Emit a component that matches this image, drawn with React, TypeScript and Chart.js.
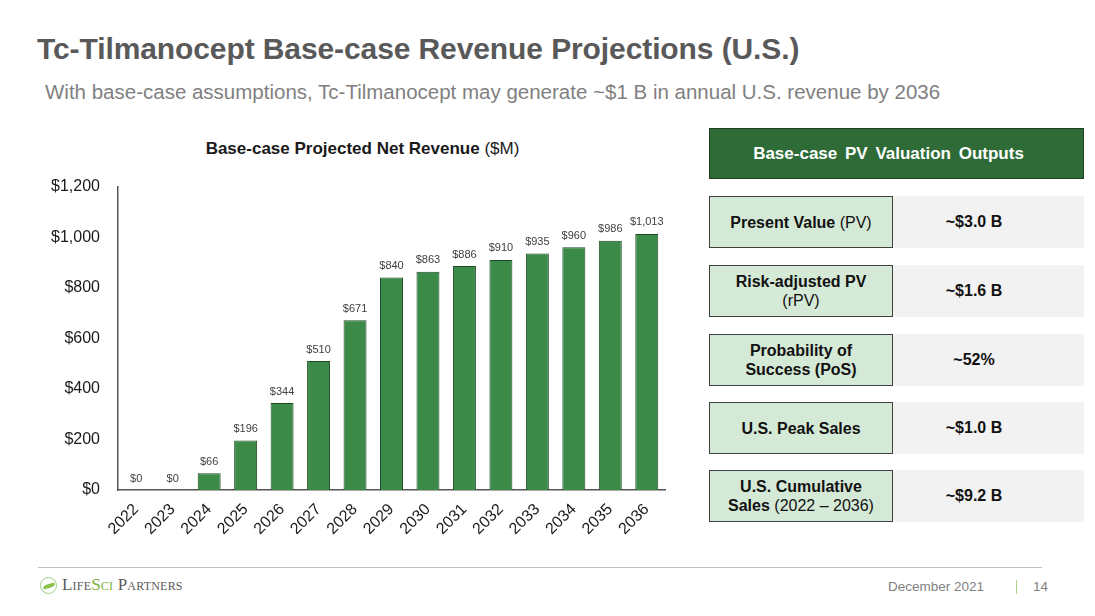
import React, { useEffect, useRef } from "react";
import { Chart, registerables } from "chart.js";

Chart.register(...registerables);

const years = ["2022","2023","2024","2025","2026","2027","2028","2029","2030","2031","2032","2033","2034","2035","2036"];
const revenue = [0, 0, 66, 196, 344, 510, 671, 840, 863, 886, 910, 935, 960, 986, 1013];
const yTicksMax = 1200;
const yStep = 200;

const outputValues = ["~$3.0 B", "~$1.6 B", "~52%", "~$1.0 B", "~$9.2 B"];

const FONT = "'Liberation Sans', Arial, sans-serif";

const dataLabelPlugin = {
  id: "dataLabels",
  afterDatasetsDraw(chart: any) {
    const { ctx } = chart;
    const meta = chart.getDatasetMeta(0);
    ctx.save();
    ctx.font = `11px ${FONT}`;
    ctx.fillStyle = "#404040";
    ctx.textAlign = "center";
    ctx.textBaseline = "bottom";
    meta.data.forEach((bar: any, i: number) => {
      const v = revenue[i];
      ctx.fillText("$" + v.toLocaleString("en-US"), bar.x, bar.y - 6);
    });
    ctx.restore();
  },
};

function RevenueChart() {
  const ref = useRef<HTMLCanvasElement | null>(null);
  useEffect(() => {
    if (!ref.current) return;
    const chart = new Chart(ref.current, {
      type: "bar",
      data: {
        labels: years,
        datasets: [
          {
            data: revenue,
            backgroundColor: "#3b8a47",
            borderColor: "#1d4a24",
            borderWidth: 1,
            categoryPercentage: 1,
            barPercentage: 0.63,
          },
        ],
      },
      options: {
        animation: false,
        responsive: false,
        maintainAspectRatio: false,
        layout: { padding: { top: 18, right: 15, left: 0, bottom: 0 } },
        plugins: { legend: { display: false }, tooltip: { enabled: false }, title: { display: false } },
        scales: {
          x: {
            grid: { display: false },
            border: { display: true, color: "#555", width: 1.5 },
            ticks: {
              color: "#1a1a1a",
              font: { family: FONT, size: 16 },
              minRotation: 45,
              maxRotation: 45,
              padding: 2,
            },
            afterFit(scale: any) { scale.height = 60; },
          },
          y: {
            min: 0,
            max: yTicksMax,
            grid: { display: false },
            border: { display: true, color: "#555", width: 1.5 },
            ticks: {
              stepSize: yStep,
              color: "#1a1a1a",
              font: { family: FONT, size: 16 },
              padding: 10,
              callback: (v: any) => "$" + Number(v).toLocaleString("en-US"),
            },
            afterFit(scale: any) { scale.width = 78; },
          },
        },
      },
      plugins: [dataLabelPlugin],
    });
    return () => chart.destroy();
  }, []);
  return <canvas ref={ref} width={640} height={383} style={{ position: "absolute", left: 40, top: 167, width: 640, height: 383 }} />;
}

export default function App() {
  const rowTops = [196, 265, 334, 402, 470];
  return (
    <div style={{ position: "absolute", left: 0, top: 0, width: 1095, height: 616, background: "#fff", overflow: "hidden", fontFamily: FONT }}>
      <div style={{ position: "absolute", left: 37, top: 32, fontSize: 30, fontWeight: "bold", color: "#595959", whiteSpace: "nowrap", letterSpacing: -0.1 }}>
        Tc-Tilmanocept Base-case Revenue Projections (U.S.)
      </div>
      <div style={{ position: "absolute", left: 45, top: 80, fontSize: 20.5, color: "#7f7f7f", whiteSpace: "nowrap" }}>
        With base-case assumptions, Tc-Tilmanocept may generate ~$1 B in annual U.S. revenue by 2036
      </div>
      <div style={{ position: "absolute", left: 40, width: 645, top: 139, textAlign: "center", fontSize: 17, color: "#1a1a1a", whiteSpace: "nowrap" }}>
        <b>Base-case Projected Net Revenue</b> ($M)
      </div>
      <RevenueChart />

      <div style={{ position: "absolute", left: 709, top: 128, width: 375, height: 51, boxSizing: "border-box", background: "#2e6b36", border: "1px solid #1e3f22", color: "#fff", fontWeight: "bold", fontSize: 17, display: "flex", alignItems: "center", justifyContent: "center", wordSpacing: 3, paddingRight: 16 }}>
        Base-case PV Valuation Outputs
      </div>
      {outputValues.map((val, i) => (
        <React.Fragment key={i}>
          <div style={{ position: "absolute", left: 892, top: rowTops[i], width: 192, height: 52, boxSizing: "border-box", paddingRight: 28, background: "#f2f2f2", display: "flex", alignItems: "center", justifyContent: "center", fontWeight: "bold", fontSize: 16, color: "#111" }}>
            {val}
          </div>
          <div style={{ position: "absolute", left: 709, top: rowTops[i], width: 184, height: 52, boxSizing: "border-box", background: "#d5e9d7", border: "1.5px solid #404040", display: "flex", alignItems: "center", justifyContent: "center", textAlign: "center", fontSize: 16, color: "#111", lineHeight: "19px", padding: "0 6px", whiteSpace: "nowrap" }}>
            {i === 0 ? (
              <span><b>Present Value</b> (PV)</span>
            ) : i === 1 ? (
              <span><b>Risk-adjusted PV</b><br />(rPV)</span>
            ) : i === 2 ? (
              <span><b>Probability of<br />Success (PoS)</b></span>
            ) : i === 3 ? (
              <span><b>U.S. Peak Sales</b></span>
            ) : (
              <span><b>U.S. Cumulative</b><br /><b>Sales</b> (2022 – 2036)</span>
            )}
          </div>
        </React.Fragment>
      ))}

      <div style={{ position: "absolute", left: 38, top: 567, width: 1004, height: 1, background: "#bfbfbf" }} />
      <div style={{ position: "absolute", left: 40, top: 577, width: 17, height: 17, borderRadius: "50%", border: "1.5px solid #9ccc8a", boxSizing: "border-box" }}>
        <div style={{ position: "absolute", left: 2, top: 6, width: 12, height: 4, borderRadius: "50% 0", background: "#8bc34a", transform: "rotate(-15deg)" }} />
      </div>
      <div style={{ position: "absolute", left: 62, top: 575, fontFamily: "'Liberation Serif', 'Times New Roman', serif", fontSize: 17, color: "#5a5a5a", fontVariant: "small-caps", whiteSpace: "nowrap", letterSpacing: 0.2 }}>
        Life<span style={{ color: "#7cb342" }}>Sci</span> Partners
      </div>
      <div style={{ position: "absolute", left: 888, top: 579, fontSize: 13.5, color: "#7f7f7f", whiteSpace: "nowrap" }}>December 2021</div>
      <div style={{ position: "absolute", left: 1016, top: 580, width: 1, height: 14, background: "#a9d18e" }} />
      <div style={{ position: "absolute", left: 1033, top: 579, fontSize: 13.5, color: "#7f7f7f" }}>14</div>
    </div>
  );
}
